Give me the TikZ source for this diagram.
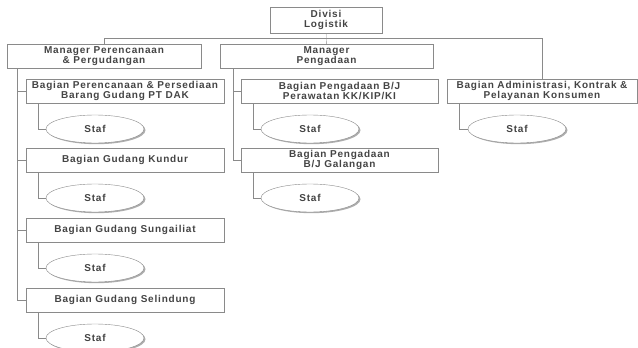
\documentclass[tikz,border=0pt]{standalone}
\usepackage{fontspec}
\setmainfont{Liberation Sans}[LetterSpace=8]
\usepackage{tikz}
\usetikzlibrary{positioning}
\usetikzlibrary{shapes.geometric}
\usetikzlibrary{shadows}
\definecolor{inkgray}{HTML}{444444}
\definecolor{linegray}{HTML}{8A8A8A}
\tikzset{box/.style = {draw=linegray, thin, rectangle, align=center, text=inkgray,
                       font=\fontsize{10}{10.5}\selectfont\bfseries,
                       inner sep=0pt, minimum height=24pt},
         staf/.style = {draw=linegray, thin, ellipse, fill=white, text=inkgray,
                        font=\fontsize{10}{10.5}\selectfont\bfseries,
                        minimum width=98pt, minimum height=28pt, inner sep=0pt,
                        drop shadow={shadow xshift=1.5pt, shadow yshift=-1.2pt, fill=gray!80, opacity=0.8}},
         link/.style = {draw=linegray, thin}}
\begin{document}
\begin{tikzpicture}[x=1pt,y=-1pt]
    \useasboundingbox (0, 0) rectangle (638, 348);
    \node [box, minimum width=112pt, minimum height=26pt] (divisi) at (326, 20) {Divisi\\Logistik};
    \node [box, minimum width=194pt] (mgrplan) at (104, 56) {Manager Perencanaan\\\& Pergudangan};
    \node [box, minimum width=213pt] (mgrbuy) at (326.5, 56) {Manager\\Pengadaan};
    \node [box, minimum width=198pt] (bplan) at (125, 91) {Bagian Perencanaan \& Persediaan\\Barang Gudang PT DAK};
    \node [box, minimum width=198pt] (bkundur) at (125, 160) {Bagian Gudang Kundur};
    \node [box, minimum width=198pt] (bsungai) at (125, 230) {Bagian Gudang Sungailiat};
    \node [box, minimum width=198pt] (bselin) at (125, 300) {Bagian Gudang Selindung};
    \node [box, minimum width=197pt] (brawat) at (339.5, 91) {Bagian Pengadaan B/J\\Perawatan KK/KIP/KI};
    \node [box, minimum width=197pt] (bgalang) at (339.5, 160) {Bagian Pengadaan\\B/J Galangan};
    \node [box, minimum width=190pt] (badmin) at (542, 91) {Bagian Administrasi, Kontrak \&\\Pelayanan Konsumen};
    % top level
    \draw [link] (divisi) -- (mgrbuy);
    \draw [link] (mgrplan.north) -- ++(0, -6) -| (badmin.north);
    % left column
    \foreach \b in {bplan, bkundur, bsungai, bselin} {
      \draw [link] ([xshift=10pt]mgrplan.south west) |- (\b.west);
    }
    % middle column
    \foreach \b in {brawat, bgalang} {
      \draw [link] ([xshift=13pt]mgrbuy.south west) |- (\b.west);
    }
    % staf
    \foreach \b/\s/\x/\y in {bplan/splan/95/129, bkundur/skundur/95/198, bsungai/ssungai/95/268,
                             bselin/sselin/95/338, brawat/srawat/310/129, bgalang/sgalang/310/198,
                             badmin/sadmin/517/129} {
      \node [staf] (\s) at (\x, \y) {Staf};
      \draw [link] ([xshift=12pt]\b.south west) |- (\s.west);
    }
  \end{tikzpicture}
\end{document}
